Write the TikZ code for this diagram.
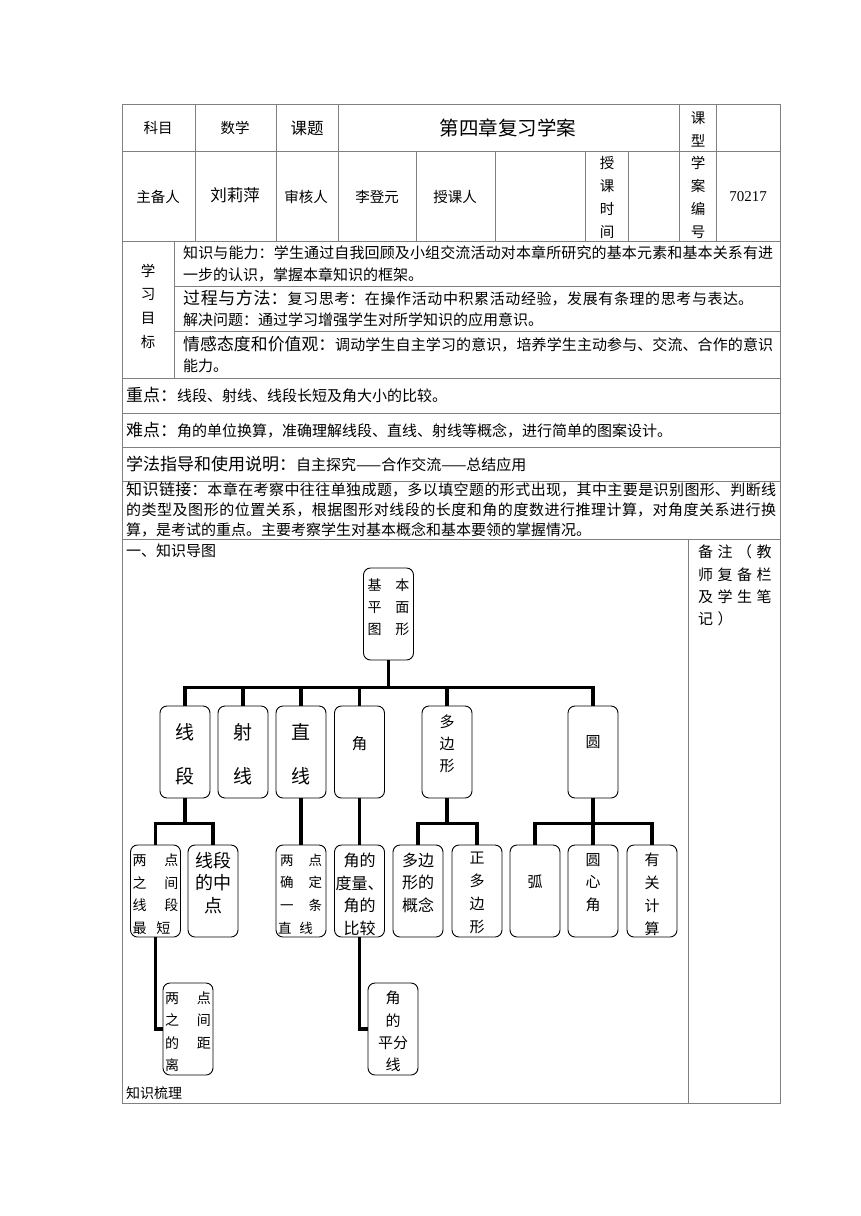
\documentclass[tikz,border=0pt]{standalone}
\usepackage{fontspec}
\setmainfont{Noto Sans CJK SC}
\newfontfamily\numfont{Liberation Serif}
\usepackage{tikz}
\usetikzlibrary{positioning,calc}
\definecolor{ink}{HTML}{000000}
\definecolor{rule}{HTML}{808080}
\newcommand\fs[2][23pt]{\fontsize{#2}{#1}\selectfont}
\newcommand\jline[2]{\parbox{#1}{\XeTeXlinebreaklocale "zh"\XeTeXlinebreakskip=0pt plus 1fil\parfillskip=0pt\relax #2}}
\newcommand\bxt[4]{\parbox[c][92pt][t]{46pt}{\centering\fs[#3]{#2}\vspace*{#1}#4}}
\newcommand\gp{\hspace{4.5pt}}
\begin{document}
\begin{tikzpicture}[x=1pt,y=-1pt,
    grid/.style={draw=rule,line width=0.9pt},
    cell/.style={inner sep=0pt,text=ink,font=\fs{14.5}},
    lcell/.style={cell,anchor=west,font=\fs{15}},
    box/.style={draw=ink,rounded corners=7pt,minimum width=50pt,minimum height=92pt,inner sep=0pt,line width=0.9pt},
    conn/.style={draw=ink,line width=3.2pt}]
  \useasboundingbox (0,0) rectangle (860,1216);
  % table
  \draw[grid] (122,104) rectangle (780,1103);
  \foreach \y in {151,241,378,413,447,481,539} \draw[grid] (122,\y) -- (780,\y);
  \foreach \y in {286,331} \draw[grid] (174,\y) -- (780,\y);
  \foreach \x in {195,276,338,679,716} \draw[grid] (\x,104) -- (\x,241);
  \foreach \x in {416,495,585,628} \draw[grid] (\x,151) -- (\x,241);
  \draw[grid] (174,241) -- (174,378);
  \draw[grid] (688,539) -- (688,1103);

  \node[cell] (ckm) at (158,128) {科目};
  \node[cell] (csx) at (235,128) {数学};
  \node[cell,font=\fs{16.5}] (ckt) at (307,128) {课题};
  \node[cell,font=\fs{19.5}] (ctitle) at (508,128) {第四章复习学案};
  \node[cell,align=center] (ckx) at (698,129.5) {课\\型};
  \node[cell] (czbr) at (158,197) {主备人};
  \node[cell,font=\fs{16.5}] (clwp) at (235,195) {刘莉萍};
  \node[cell] (cshr) at (306,197) {审核人};
  \node[cell] (cldy) at (377,197) {李登元};
  \node[cell] (cskr) at (455,197) {授课人};
  \node[cell,align=center] (csksj) at (607,197.5) {授\\课\\时\\间};
  \node[cell,align=center] (cxabh) at (698,197.5) {学\\案\\编\\号};
  \node[cell,font=\fs{15}\numfont] (cbh) at (748,197) {70217};

  \node[cell,align=center,font={\fs[23.7pt]{14.5}}] (cxxmb) at (148,306) {学\\习\\目\\标};
  \node[lcell] (cnl1) at (183,253) {\jline{590pt}{知识与能力：学生通过自我回顾及小组交流活动对本章所研究的基本元素和基本关系有进}};
  \node[lcell] (cnl2) at (183,275) {一步的认识，掌握本章知识的框架。};
  \node[lcell] (cgc1) at (183,298) {\jline{570pt}{{\fs{17}过程与方法：}复习思考：在操作活动中积累活动经验，发展有条理的思考与表达。}};
  \node[lcell] (cgc2) at (183,320) {解决问题：通过学习增强学生对所学知识的应用意识。};
  \node[lcell] (cqg1) at (183,344) {\jline{590pt}{{\fs{16.8}情感态度和价值观：}调动学生自主学习的意识，培养学生主动参与、交流、合作的意识}};
  \node[lcell] (cqg2) at (183,366) {能力。};

  \node[lcell] (czd) at (126,395) {{\fs{17}重点：}线段、射线、线段长短及角大小的比较。};
  \node[lcell] (cnd) at (126,430) {{\fs{17}难点：}角的单位换算，准确理解线段、直线、射线等概念，进行简单的图案设计。};
  \node[lcell] (cxf) at (126,464) {{\fs{17}学法指导和使用说明：}自主探究——合作交流——总结应用};
  \node[lcell] (clj1) at (126,490) {\jline{650pt}{{\fs{16}知识链接：}本章在考察中往往单独成题，多以填空题的形式出现，其中主要是识别图形、判断线}};
  \node[lcell] (clj2) at (126,510) {\jline{650pt}{的类型及图形的位置关系，根据图形对线段的长度和角的度数进行推理计算，对角度关系进行换}};
  \node[lcell] (clj3) at (126,530) {算，是考试的重点。主要考察学生对基本概念和基本要领的掌握情况。};

  \node[lcell] (cdt) at (126,551) {一、知识导图};
  \node[lcell,font=\fs{14}] (csl) at (126,1093) {知识梳理};
  \node[cell,anchor=west,align=left,font={\fs[22.4pt]{15}}] (cbz) at (698,585.5)
    {备\gp 注\gp （\gp 教\\师\gp 复\gp 备\gp 栏\\及\gp 学\gp 生\gp 笔\\记\gp ）};

  % knowledge map
  \node[box] (root) at (388.5,614) {\bxt{10.7pt}{14}{22pt}{\makebox[42pt]{基\hfill 本}\\\makebox[42pt]{平\hfill 面}\\\makebox[42pt]{图\hfill 形}}};

  \node[box] (xd) at (185,752) {\bxt{17.5pt}{19}{44pt}{线\\段}};
  \node[box] (shx) at (243,752) {\bxt{17.5pt}{19}{44pt}{射\\线}};
  \node[box] (zx) at (301,752) {\bxt{17.5pt}{19}{44pt}{直\\线}};
  \node[box] (jiao) at (359.5,752) {\bxt{30pt}{15.5}{22pt}{角}};
  \node[box] (dbx) at (447,752) {\bxt{9.3pt}{15}{22pt}{多\\边\\形}};
  \node[box] (yuan) at (593,752) {\bxt{30pt}{15}{22pt}{圆}};

  \node[box] (ldzj) at (155.5,891) {\bxt{8.7pt}{14}{22.7pt}{两\hfill 点\\之\hfill 间\\线\hfill 段\\最\hspace{10pt}短\hfill\mbox{}}};
  \node[box] (xdzd) at (213,891) {\bxt{6.9pt}{18}{22.5pt}{线段\\的中\\点}};
  \node[box] (ldqd) at (301,891) {\bxt{8.9pt}{13.5}{22.7pt}{\makebox[42pt]{两\hfill 点}\\\makebox[42pt]{确\hfill 定}\\\makebox[42pt]{一\hfill 条}\\\makebox[46pt]{直\hspace{8pt}线\hfill}}};
  \node[box] (jdl) at (359.5,891) {\bxt{7.8pt}{16}{22.7pt}{角的\\\makebox[46pt]{度量、}\\角的\\比较}};
  \node[box] (dbxgn) at (418,891) {\bxt{7.8pt}{16}{22.7pt}{多边\\形的\\概念}};
  \node[box] (zdbx) at (477,891) {\bxt{6.8pt}{15}{23pt}{正\\多\\边\\形}};
  \node[box] (hu) at (535,891) {\bxt{30pt}{15}{22pt}{弧}};
  \node[box] (yxj) at (593,891) {\bxt{8.3pt}{15}{22.5pt}{圆\\心\\角}};
  \node[box] (ygjs) at (652,891) {\bxt{8.3pt}{15}{22.7pt}{有\\关\\计\\算}};

  \node[box] (ldjl) at (188,1029) {\bxt{8.7pt}{14}{22.3pt}{两\hfill 点\\之\hfill 间\\的\hfill 距\\离\hfill\mbox{}}};
  \node[box] (jpfx) at (393,1029) {\bxt{8.3pt}{15}{22.3pt}{角\\的\\平分\\线}};

  \foreach \n in {xd,shx,zx,jiao,dbx,yuan} \draw[conn] (root.south) -- ++(0,27) -| (\n.north);
  \foreach \n in {ldzj,xdzd} \draw[conn] (xd.south) -- ++(0,25) -| (\n.north);
  \draw[conn] (zx.south) -- (ldqd.north);
  \draw[conn] (jiao.south) -- (jdl.north);
  \foreach \n in {dbxgn,zdbx} \draw[conn] (dbx.south) -- ++(0,25) -| (\n.north);
  \foreach \n in {hu,yxj,ygjs} \draw[conn] (yuan.south) -- ++(0,25) -| (\n.north);
  \draw[conn] (ldzj.south) |- (ldjl.west);
  \draw[conn] (jdl.south) |- (jpfx.west);
\end{tikzpicture}
\end{document}
